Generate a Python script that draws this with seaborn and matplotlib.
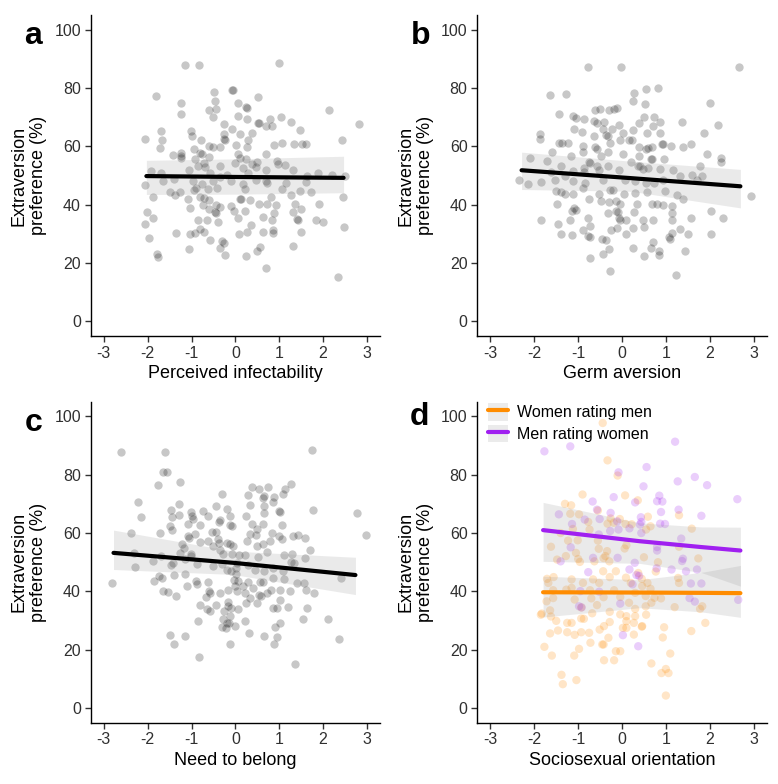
import numpy as np
import pandas as pd
import seaborn as sns
import matplotlib.pyplot as plt
from matplotlib.patches import Patch
from matplotlib.lines import Line2D

# ---- panel a: perceived infectability ----
a_x = [-1.15, -0.82, 0.99, -1.82, -0.49, -0.08, -0.05, 0.52, -1.25, -0.47, 0.05, 0.24, 0.27, 2.14,
       -1.25, -0.59, -0.44, -0.5, 0.05, 0.27, 1.04, 1.26, 0.79, 2.83, -0.26, -0.08, 0.51, 0.53, 0.7,
       0.83, -1.69, -1.02, -0.98, -0.78, -0.27, 0.11, 0.3, 0.39, 1.47, -0.25, -0.23, -2.06, -1.68,
       2.44, -1.73, -1.23, -1.43, -1.24, -0.94, -0.8, -0.77, -0.6, -0.5, -0.34, 0.02, 0.26, 0.89,
       1.07, 1.34, 1.52, 1.62, -1.24, -0.92, -0.6, 0.06, 0.11, 0.24, 0.5, 0.7, 0.95, -0.72, -0.86,
       -0.7, -0.34, -0.01, 0.39, 0.48, 0.98, 1.14, 1.31, -1.92, -1.7, -1.06, -0.57, -0.19, 0.17,
       0.3, 0.69, 1.64, 1.89, 2.21, 2.51, -2.05, -1.66, -1.4, -0.96, -0.75, -0.5, -0.34, -0.11,
       0.18, 0.48, 0.69, 0.72, 1.16, 1.61, -0.94, -0.9, -0.63, -0.42, 0.21, 1.06, 1.47, 1.73,
       -1.49, -1.27, -1.38, -1.89, -1.09, -0.8, -0.72, -0.59, 0.1, 0.13, 0.34, 0.82, 1.27, 2.45,
       -1.03, -0.74, -0.44, -0.11, 0.55, 0.72, 0.92, 1.37, 1.9, -2.01, -0.6, -0.47, -0.43, -0.34,
       -0.02, 0.21, 0.89, 1.31, 1.5, -1.89, 0.07, 0.62, 0.83, 1.4, 1.43, 1.85, 1.99, -2.06, -0.85,
       -0.64, -0.4, 0.35, 2.48, -1.35, -1.03, -0.92, -0.8, -0.71, 0.09, 0.27, 0.62, 0.86, 0.87,
       1.5, -1.97, -0.58, -0.3, -0.27, -0.34, -1.05, 0.56, 0.5, 1.31, -1.79, -1.76, -0.24, 0.24,
       0.69, 2.34]
a_y = [87.8, 87.8, 88.5, 77.3, 78.5, 79.2, 79.2, 76.8, 74.8, 75.6, 74.8, 73.4, 73.0, 72.3,
       70.9, 72.3, 72.8, 69.9, 70.3, 69.3, 70.1, 68.5, 69.5, 67.7, 67.6, 65.9, 67.9, 67.9, 66.8,
       67.1, 65.3, 65.4, 63.5, 62.3, 64.2, 64.3, 62.2, 64.4, 65.5, 62.6, 62.3, 62.4, 62.3,
       62.2, 59.4, 57.8, 57.0, 56.8, 59.0, 57.7, 57.5, 60.1, 59.9, 59.6, 60.4, 59.6, 60.4,
       61.0, 60.7, 60.7, 60.7, 55.9, 55.7, 56.2, 57.5, 56.1, 55.7, 54.7, 57.4, 55.1, 54.3, 53.1,
       53.0, 53.4, 54.2, 53.8, 52.9, 53.8, 53.5, 51.8, 51.5, 50.9, 51.8, 51.0, 50.3, 52.5,
       50.9, 51.8, 49.8, 50.7, 50.0, 49.9, 46.8, 48.1, 48.9, 48.2, 47.1, 48.1, 49.4, 48.1,
       47.0, 48.3, 48.0, 47.4, 47.3, 47.9, 45.2, 45.6, 45.5, 45.8, 45.5, 45.5, 44.7, 44.3,
       44.2, 44.3, 43.2, 42.8, 42.1, 42.8, 42.4, 41.7, 42.0, 41.9, 41.7, 42.5, 43.3, 42.7,
       39.0, 39.8, 39.8, 39.5, 40.2, 40.1, 39.8, 40.4, 40.3, 37.6, 38.6, 37.6, 37.2, 39.3,
       37.8, 37.8, 37.1, 37.6, 38.6, 35.5, 35.5, 35.7, 34.9, 35.0, 34.7, 34.9, 34.2, 33.4, 34.6,
       34.9, 34.1, 32.9, 32.4, 30.4, 29.8, 30.4, 31.6, 30.7, 30.0, 30.5, 30.5, 31.3, 30.3,
       30.7, 28.5, 28.0, 27.6, 26.8, 25.2, 24.9, 25.5, 24.0, 25.8, 23.2, 22.0, 22.9, 22.4,
       18.3, 15.1]
a_fit_x = [-2.03, 0.0, 2.47]
a_fit_y = [49.8, 49.5, 49.2]
a_lo = [43.5, 43.6, 44.1]
a_hi = [55.2, 55.7, 56.6]

# ---- panel b: germ aversion ----
b_x = [-0.77, -0.02, 2.67, 0.55, 0.81, 0.27, -1.64, -1.28, 0.52, 0.24, 2.0, -0.62, -0.5, -0.29,
       -0.18, -0.12, -1.44, -1.12, -1.04, -0.87, 0.51, 0.74, -0.65, -0.4, -0.57, 0.38, 0.87,
       1.36, 2.2, -0.07, 0.71, -1.1, -0.92, -0.44, -0.23, 0.03, 0.26, 0.58, 0.86, 1.86, -1.88,
       -1.86, -0.65, -0.36, -0.31, -0.04, 0.17, 0.23, -1.43, -1.37, -1.23, -0.9, -0.62, -0.27,
       0.68, 0.91, 0.93, 1.12, 1.4, 1.58, -1.59, -0.88, -0.57, -0.33, 0.02, 0.39, 0.54, 0.6,
       1.94, -2.09, -1.17, -0.49, 0.38, 0.66, 0.69, 2.26, -1.71, -0.76, -0.72, 0.21, 0.96, 2.26,
       -1.38, -0.86, -0.57, -0.33, 0.36, 0.4, 0.87, 1.78, -1.62, -1.12, -0.86, -0.52, -0.08,
       0.49, 0.59, 1.17, 1.59, 1.82, -2.36, -2.15, -1.85, -1.53, -1.31, -1.11, -0.85, -0.44,
       0.06, 0.3, 0.54, 0.72, 0.94, 1.32, 1.7, -1.5, -1.39, -1.3, -1.12, -0.88, -0.52, -0.27,
       -0.21, 0.04, 0.3, 0.58, 0.98, 1.25, 2.94, -1.48, -1.09, -1.05, -0.75, -0.49, -0.3, -0.13,
       -0.04, 0.35, 0.69, 0.79, 0.93, 1.15, 1.4, -1.13, -0.32, -0.14, -0.1, 0.27, 1.15, 2.03,
       -1.85, -1.45, -1.19, -0.77, -0.06, -0.04, 0.1, 0.49, 0.7, 1.15, 1.58, 2.31, -1.38, -1.15,
       -0.89, -0.72, -0.25, -0.11, 0.08, 0.26, 0.51, 1.14, 1.33, 1.5, 2.03, -0.78, -0.72, -0.46,
       -0.36, 0.7, 1.07, 1.09, 0.24, 0.65, -0.3, 1.43, -0.43, 0.84, 0.84, -0.74, 0.5, -0.28,
       1.23]
b_y = [87.2, 87.2, 87.2, 79.8, 80.0, 78.3, 77.7, 78.0, 74.5, 75.5, 75.0, 72.3, 72.8, 72.3,
       72.9, 73.1, 70.9, 70.3, 69.7, 69.3, 69.9, 69.9, 68.6, 68.2, 68.1, 68.0, 68.4,
       68.2, 67.2, 67.4, 66.9, 65.8, 65.0, 65.8, 65.9, 64.5, 65.5, 64.6, 64.6, 64.7, 64.1,
       62.6, 63.4, 64.0, 63.4, 62.3, 62.3, 62.0, 61.2, 61.0, 61.2, 60.2, 59.9, 61.2,
       59.7, 60.8, 60.8, 60.0, 59.6, 60.9, 58.2, 58.0, 59.2, 58.0, 57.5, 59.7, 59.0, 59.4,
       57.5, 56.1, 56.7, 56.8, 56.7, 55.7, 55.5, 56.1, 55.1, 54.7, 54.3, 54.6, 55.6, 54.7,
       53.2, 52.6, 53.4, 53.4, 53.4, 53.4, 52.1, 53.4, 51.1, 51.5, 51.3, 51.8, 51.8,
       52.1, 52.6, 51.8, 50.1, 49.8, 48.3, 47.1, 47.7, 48.3, 49.8, 48.1, 47.5, 48.6,
       48.6, 48.2, 47.4, 47.6, 48.5, 49.8, 48.6, 44.8, 44.2, 43.7, 43.5, 45.8, 43.5, 45.2,
       45.2, 43.8, 44.1, 44.3, 44.6, 43.2, 42.9, 40.3, 38.8, 38.1, 42.0, 41.2, 40.9, 41.1,
       40.4, 40.3, 40.1, 40.1, 39.8, 39.6, 41.8, 37.7, 37.2, 37.9, 37.6, 37.6, 37.2, 37.7,
       34.9, 33.4, 34.6, 35.3, 35.4, 34.9, 34.9, 34.7, 34.6, 34.9, 35.4, 35.3, 30.1, 29.5,
       31.2, 32.6, 31.2, 32.1, 30.0, 32.1, 32.3, 30.4, 31.7, 29.9, 30.1, 29.4, 28.9, 28.2,
       27.8, 27.3, 28.8, 28.2, 25.1, 25.3, 24.7, 24.3, 23.2, 24.2, 22.8, 21.8, 22.3, 17.2,
       15.9]
b_fit_x = [-2.29, 0.2, 2.7]
b_fit_y = [51.8, 49.1, 46.3]
b_lo = [45.2, 44.6, 38.9]
b_hi = [58.0, 54.9, 52.1]

# ---- panel c: need to belong ----
c_x = [-2.6, -1.6, 1.76, -1.64, -1.56, -1.76, -1.27, -2.22, -2.16, -2.38, 2.78, 2.98, 1.77,
       -1.47, -1.29, -1.44, -1.29, -1.5, -1.44, -1.73, -1.01, -1.0, -0.97, -1.08, -0.81, -0.92,
       -1.08, -1.05, -1.21, -1.17, -0.81, -1.01, -1.01, -1.27, -1.7, -2.32, -2.29, -1.89, -1.42,
       -1.46, -1.16, -0.88, -1.75, -1.68, -1.86, -1.4, -1.14, -2.82, -1.66, -1.53, -1.36, -1.11,
       -0.89, -0.88, -0.62, -0.6, -0.58, -0.66, -0.8, -0.64, -0.58, -0.44, -0.85, -1.5, -1.14,
       -1.41, -0.82, -0.53, -0.44, -0.63, -0.34, -0.5, -0.37, -0.4, -0.37, -0.44, -0.31, -0.18,
       -0.12, -0.13, -0.08, -0.35, -0.73, -0.62, -0.19, -0.12, -0.05, -0.28, -0.07, 0.03, -0.3,
       -0.5, -0.19, -0.11, 0.02, 0.01, -0.02, 0.05, 0.0, -0.17, 0.03, -0.34, -0.16, -0.17, -0.11,
       -0.27, 0.05, -0.12, -0.29, -0.2, -0.14, -0.3, -0.21, 0.0, -0.12, 0.25, 0.28, 0.38, 0.34,
       0.53, 0.75, 0.64, 0.65, 0.89, 1.14, 1.26, 1.08, 0.66, 0.85, 0.99, 1.01, 0.66, 0.38, 0.5,
       0.64, 1.07, 0.83, 0.34, 0.47, 0.26, 0.49, 0.64, 0.72, 0.79, 1.0, 1.07, 1.32, 1.44, 1.58,
       1.71, 1.6, 1.29, 1.28, 1.33, 1.11, 0.51, 0.3, 0.21, 0.08, 0.45, 0.66, 0.87, 1.08, 0.87,
       1.1, 0.56, 0.64, 0.3, 0.41, 0.18, 0.81, 1.02, 1.41, 1.57, 1.61, 1.79, 1.25, 0.72, 0.53,
       0.58, 0.22, 0.24, 0.34, 0.5, 0.85, 0.95, 1.02, 1.2, 1.63, 0.22, 1.54, 2.12, 1.02, 0.91,
       0.32, 0.66, 0.94, 2.37, 0.89, 1.37, 2.4]
c_y = [87.8, 87.6, 88.6, 80.8, 80.8, 76.6, 77.6, 70.7, 65.4, 60.0, 66.9, 59.2, 67.8,
       67.8, 69.9, 65.6, 66.1, 62.3, 61.2, 60.0, 67.2, 65.9, 64.9, 63.0, 62.9, 59.5,
       58.9, 58.3, 56.4, 54.9, 57.0, 52.9, 52.1, 53.2, 52.1, 53.3, 48.4, 50.5, 49.8,
       49.0, 51.1, 49.4, 45.2, 44.6, 43.7, 45.5, 45.8, 42.9, 40.1, 39.8, 38.4, 41.8,
       43.4, 42.6, 43.3, 40.1, 39.5, 38.0, 35.5, 34.0, 33.4, 35.2, 29.9, 24.9, 24.7,
       21.9, 17.6, 60.5, 60.2, 57.2, 54.1, 55.5, 56.6, 57.8, 63.7, 69.2, 73.3, 68.3,
       65.8, 62.9, 62.3, 64.6, 67.7, 65.8, 56.6, 56.2, 55.5, 52.9, 52.9, 49.8, 49.4,
       48.6, 47.5, 46.9, 48.1, 45.8, 43.9, 43.4, 41.8, 40.6, 40.1, 39.3, 36.4, 34.9, 34.4,
       33.2, 33.8, 31.7, 30.4, 29.2, 29.2, 27.7, 27.5, 28.1, 22.0, 66.0, 73.2, 75.9, 69.5,
       75.1, 75.7, 72.0, 72.8, 72.4, 75.1, 76.9, 73.4, 69.4, 70.7, 67.7, 67.2, 66.9, 63.2, 61.3,
       63.1, 62.6, 60.0, 59.7, 59.4, 57.2, 55.5, 56.4, 53.4, 57.2, 59.1, 57.8, 58.9, 59.2, 58.2,
       54.3, 51.5, 52.9, 50.1, 49.6, 52.3, 51.7, 49.2, 52.4, 52.6, 47.5, 47.1, 48.1, 46.9, 44.6,
       44.4, 43.3, 43.3, 43.2, 41.2, 41.8, 40.6, 40.6, 42.9, 42.9, 40.6, 39.5, 40.0, 39.3, 38.7,
       38.3, 39.5, 36.1, 37.8, 36.1, 34.4, 34.4, 37.2, 34.5, 34.4, 29.8, 30.4, 30.7, 29.2, 27.7,
       25.8, 24.7, 24.4, 23.6, 22.1, 15.1, 44.6]
c_fit_x = [-2.78, -0.05, 2.74]
c_fit_y = [53.2, 49.8, 45.6]
c_lo = [47.5, 45.8, 38.9]
c_hi = [61.0, 53.8, 51.7]

# ---- panel d: sociosexual orientation ----
women_x = [-0.44, -0.33, -0.1, -0.9, 0.07, 0.36, -1.3, -1.16, -0.55, 1.3, 0.59, -1.18, -0.98,
           -0.77, -0.26, -0.05, 0.08, 0.22, 1.59, 0.65, 0.55, -0.33, -0.19, -1.01, -0.55, -0.74,
           -1.12, -1.4, -1.23, -1.62, -1.05, -0.53, -0.34, 0.06, 0.1, -0.38, -1.48, -1.28, -1.0,
           -0.96, -0.63, -0.29, -0.42, 0.5, 0.82, 1.3, 1.74, 1.28, 1.3, -1.71, -1.56, -1.68,
           -1.15, -1.15, -1.27, -0.89, -0.66, -0.43, -0.28, -0.14, 0.09, 0.37, 0.2, 0.46, 0.58,
           0.65, 0.3, 0.74, 0.89, 0.54, 0.67, -1.72, -1.57, -1.83, -1.64, -1.62, -1.5, -1.08,
           -0.93, -0.7, -0.57, -0.42, -0.04, 0.16, 0.3, 0.54, 1.2, 1.83, 1.78, -0.87, -0.68,
           -0.28, -0.04, 0.1, 0.3, 0.55, 1.9, -1.25, -1.15, -0.93, -0.28, 0.1, 0.27, -0.41, -0.51,
           0.02, 0.1, 0.46, 0.96, -1.46, -1.25, -1.08, -0.93, -0.75, -1.64, -0.72, -0.45, -0.31,
           0.27, 0.45, 0.93, 1.58, -1.77, -0.98, -0.42, -1.6, -1.09, -0.14, -0.04, -0.41, -0.18,
           0.67, -1.38, -1.35, -1.04, 0.9, 1.06, 1.0, 1.1, 1.0, -1.85, -1.57, -0.73, -0.18,
           -0.52, 0.45, 0.77]
women_y = [97.7, 84.9, 79.7, 73.2, 72.9, 71.2, 70.0, 69.5, 67.7, 66.1, 65.6, 66.6, 66.4,
           63.8, 65.0, 64.8, 63.1, 63.0, 61.5, 62.3, 61.2, 63.2, 63.5, 57.5, 57.4, 61.2,
           61.4, 60.0, 57.4, 55.3, 53.2, 54.6, 53.8, 54.7, 55.8, 52.1, 50.9, 52.1, 51.1,
           50.1, 50.3, 50.3, 51.4, 51.7, 50.0, 55.3, 51.3, 44.6, 42.9, 44.3, 44.9, 42.9,
           44.1, 41.2, 40.6, 42.9, 44.1, 46.9, 44.9, 46.9, 44.7, 46.3, 42.9, 41.8, 42.9,
           40.9, 39.5, 37.8, 37.6, 38.4, 36.1, 36.6, 37.7, 32.4, 33.5, 31.4, 29.9, 37.2,
           34.5, 37.6, 35.3, 38.0, 38.1, 36.1, 34.0, 34.9, 34.6, 34.9, 34.0, 30.6, 32.5,
           33.0, 32.1, 31.5, 31.5, 32.0, 29.2, 29.2, 29.2, 30.7, 29.5, 29.8, 29.2, 28.1, 26.9,
           27.5, 27.5, 28.1, 27.7, 26.6, 26.0, 25.1, 26.0, 25.8, 25.6, 22.4, 21.8, 24.1,
           25.2, 27.9, 24.2, 26.4, 21.0, 20.3, 21.8, 18.0, 18.0, 19.5, 19.5, 16.4, 16.4,
           15.3, 11.4, 8.2, 9.6, 12.0, 12.0, 13.4, 18.7, 4.3, 32.0, 40.4, 40.4, 40.4,
           42.9, 44.3, 46.8]
men_x = [-1.77, -1.18, 1.21, -0.08, 0.56, 1.66, 1.94, 1.27, 0.49, 2.63, 0.85, 0.8, 0.92, 0.3,
         -0.19, -0.67, -0.26, -0.57, 1.81, 0.89, 1.29, -1.44, -0.85, 0.43, 0.87, -1.14, -0.51,
         0.44, 0.41, 0.17, -0.27, -0.08, -0.53, 0.44, 1.35, -1.17, 0.8, 0.8, 1.39, 1.37, -0.1,
         -1.4, -0.66, 0.17, 0.29, 1.13, 1.46, 1.71, 0.79, 0.33, 0.39, 0.24, -0.77, -0.52, -0.95,
         1.57, 1.81, 1.54, 1.66, 2.65, -0.04, 0.02, 0.37, -0.98, -0.92, 0.98, -0.11]
men_y = [88.0, 89.7, 91.3, 80.8, 82.6, 79.2, 76.4, 77.7, 76.0, 71.6, 72.8, 70.9, 70.8, 70.5,
         72.3, 70.8, 66.9, 68.0, 65.9, 67.2, 68.0, 66.4, 64.6, 65.4, 63.2, 63.1, 64.8,
         63.8, 62.9, 61.6, 60.7, 61.2, 59.5, 60.0, 58.1, 55.1, 55.2, 54.0, 51.2, 50.4, 51.5,
         50.3, 51.5, 47.5, 49.8, 47.5, 46.9, 47.5, 47.9, 45.6, 45.3, 42.4, 46.6, 39.9, 40.1,
         42.7, 42.7, 37.7, 36.5, 37.1, 35.8, 25.0, 21.2, 34.9, 34.5, 63.1, 64.0]
women_fit_x = [-1.8, 0.4, 1.8, 2.7]
women_fit_y = [39.7, 39.6, 39.5, 39.4]
women_lo = [31.2, 34.4, 33.0, 31.1]
women_hi = [45.2, 44.0, 46.5, 48.9]
men_fit_x = [-1.8, 0.4, 1.8, 2.7]
men_fit_y = [61.0, 57.2, 55.2, 54.0]
men_lo = [50.3, 49.6, 46.5, 41.8]
men_hi = [70.5, 63.5, 62.1, 62.0]

orange = "#FF8C00"
purple = "#A020F0"
band = "#999999"

sns.set_style("ticks")
plt.rcParams["font.family"] = ["Liberation Sans", "DejaVu Sans"]
plt.rcParams["axes.linewidth"] = 1.0
plt.rcParams["text.color"] = "black"
plt.rcParams["axes.labelcolor"] = "black"

fig = plt.figure(figsize=(7.78, 7.84), dpi=100)
boxes = {
    "a": [0.1166, 0.5714, 0.3718, 0.4095],
    "b": [0.6135, 0.5714, 0.3720, 0.4095],
    "c": [0.1166, 0.0782, 0.3718, 0.4094],
    "d": [0.6135, 0.0782, 0.3720, 0.4094],
}
xlabels = {"a": "Perceived infectability", "b": "Germ aversion",
           "c": "Need to belong", "d": "Sociosexual orientation"}

panels = {
    "a": (a_x, a_y, a_fit_x, a_fit_y, a_lo, a_hi),
    "b": (b_x, b_y, b_fit_x, b_fit_y, b_lo, b_hi),
    "c": (c_x, c_y, c_fit_x, c_fit_y, c_lo, c_hi),
}

axes = {}
for key, box in boxes.items():
    ax = fig.add_axes(box)
    axes[key] = ax
    if key in panels:
        px, py, fx, fy, lo, hi = panels[key]
        sns.scatterplot(x=px, y=py, ax=ax, color="black", alpha=0.22, s=36,
                        linewidth=0, legend=False)
        ax.fill_between(fx, lo, hi, color=band, alpha=0.2, linewidth=0)
        sns.lineplot(x=fx, y=fy, ax=ax, color="black", linewidth=3.0)

# panel d with two groups
ax = axes["d"]
dfd = pd.DataFrame({
    "x": women_x + men_x,
    "y": women_y + men_y,
    "group": ["Women rating men"] * len(women_x) + ["Men rating women"] * len(men_x),
})
sns.scatterplot(data=dfd, x="x", y="y", hue="group", ax=ax, alpha=0.22, s=36,
                linewidth=0, legend=False,
                palette={"Women rating men": orange, "Men rating women": purple})
ax.fill_between(women_fit_x, women_lo, women_hi, color=band, alpha=0.2, linewidth=0)
ax.fill_between(men_fit_x, men_lo, men_hi, color=band, alpha=0.2, linewidth=0)
sns.lineplot(x=women_fit_x, y=women_fit_y, ax=ax, color=orange, linewidth=3.0)
sns.lineplot(x=men_fit_x, y=men_fit_y, ax=ax, color=purple, linewidth=3.0)

handles = [
    (Patch(facecolor="#ebebeb", edgecolor="none"), Line2D([], [], color=orange, lw=3)),
    (Patch(facecolor="#ebebeb", edgecolor="none"), Line2D([], [], color=purple, lw=3)),
]
ax.legend(handles, ["Women rating men", "Men rating women"], loc="upper left",
          bbox_to_anchor=(0.0, 1.03), frameon=False, fontsize=11.5, handlelength=1.25,
          handleheight=1.3, handletextpad=0.55, labelspacing=0.25, borderaxespad=0.3)

for key, ax in axes.items():
    ax.set_xlim(-3.3, 3.3)
    ax.set_ylim(-5, 105)
    ax.set_xticks([-3, -2, -1, 0, 1, 2, 3])
    ax.set_xticklabels(["-3", "-2", "-1", "0", "1", "2", "3"])
    ax.set_yticks([0, 20, 40, 60, 80, 100])
    ax.tick_params(labelsize=11.5, length=4, width=1.0, color="#333333",
                   labelcolor="#303030", pad=3)
    ax.set_xlabel(xlabels[key], fontsize=13, labelpad=3)
    ax.set_ylabel("Extraversion\npreference (%)", fontsize=13, labelpad=5,
                  linespacing=1.2)
    for side in ["top", "right"]:
        ax.spines[side].set_visible(False)
    ax.spines["left"].set_color("black")
    ax.spines["bottom"].set_color("black")

# panel letters
letter_pos = {"a": (0.043, 0.954), "b": (0.541, 0.954), "c": (0.043, 0.460), "d": (0.539, 0.468)}
for key, (lx, ly) in letter_pos.items():
    fig.text(lx, ly, key, fontsize=23, fontweight="bold", ha="center", va="center",
             color="black")

fig.savefig("out.png", dpi=100)
